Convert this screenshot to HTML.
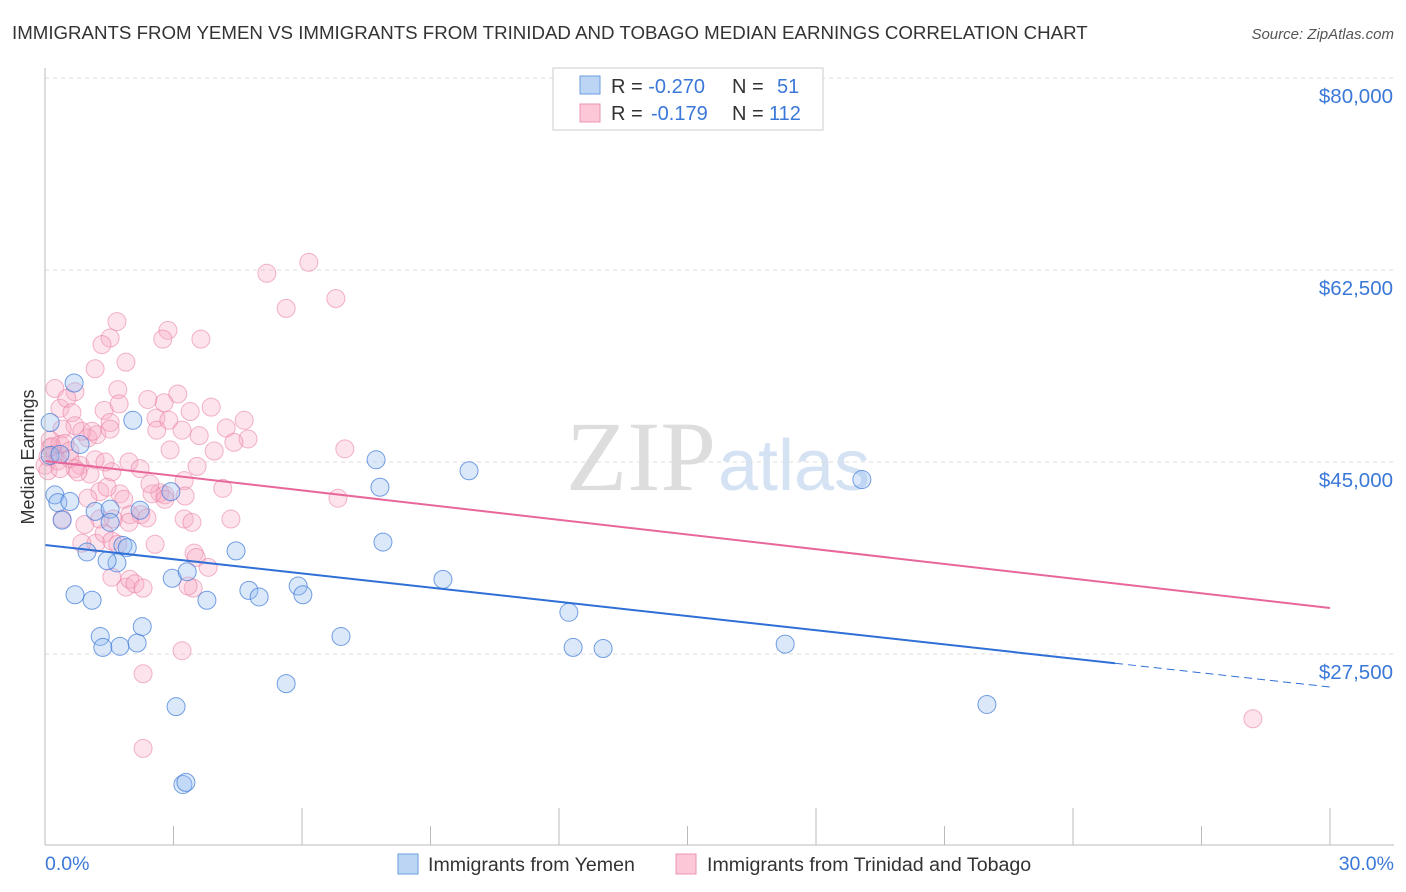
<!DOCTYPE html>
<html><head><meta charset="utf-8"><style>
body{margin:0;background:#fff;font-family:"Liberation Sans",sans-serif;}
svg{display:block}
</style></head><body>
<svg id="chart" width="1406" height="892">
<text x="12" y="39" font-size="18.7" fill="#333">IMMIGRANTS FROM YEMEN VS IMMIGRANTS FROM TRINIDAD AND TOBAGO MEDIAN EARNINGS CORRELATION CHART</text>
<text x="1394" y="39" font-size="15" fill="#555" font-style="italic" text-anchor="end">Source: ZipAtlas.com</text>
<text x="716" y="490" font-size="100" fill="#ddd" text-anchor="end" font-family="Liberation Serif">ZIP</text>
<text x="718" y="490" font-size="72" fill="#d4e2f4">atlas</text>
<text transform="translate(34,457) rotate(-90)" font-size="18" fill="#333" text-anchor="middle">Median Earnings</text>
<g id="grid"></g><g id="xt"></g><g id="pts"></g><g id="lines"></g>
<line x1="45" y1="68" x2="45" y2="845" stroke="#bbb"/>
<line x1="45" y1="845" x2="1394" y2="845" stroke="#bbb"/>
<text x="45" y="870" font-size="19.5" fill="#3b78d8">0.0%</text>
<text x="1394" y="870" font-size="19.5" fill="#3b78d8" text-anchor="end">30.0%</text>
<g>
<rect x="553" y="68" width="270" height="62" fill="#fff" stroke="#ccc"/>
<rect x="580" y="76" width="20" height="18" fill="#bcd5f5" stroke="#6a9ee0"/>
<rect x="580" y="104" width="20" height="18" fill="#fcc8d8" stroke="#eb93b0"/>
<text x="611" y="93" font-size="20" fill="#333">R = <tspan fill="#3b78d8">-0.270</tspan><tspan x="732">N = </tspan><tspan x="777" fill="#3b78d8">51</tspan></text>
<text x="611" y="120" font-size="20" fill="#333">R = <tspan x="651" fill="#3b78d8">-0.179</tspan><tspan x="732">N = </tspan><tspan x="769" fill="#3b78d8">112</tspan></text>
</g>
<g>
<rect x="398" y="854" width="20" height="20" fill="#bcd5f5" stroke="#6a9ee0"/>
<text x="428" y="871" font-size="19.6" fill="#333">Immigrants from Yemen</text>
<rect x="676" y="854" width="20" height="20" fill="#fcc8d8" stroke="#eb93b0"/>
<text x="707" y="871" font-size="19.6" fill="#333">Immigrants from Trinidad and Tobago</text>
</g>
</svg>
<script>
const yTicks=[80000,62500,45000,27500];
const yTickLabels=["$80,000","$62,500","$45,000","$27,500"];
const xTicks=[0,3,6,9,12,15,18,21,24,27,30];
const blueX=[0.12,0.68,2.05,0.23,0.3,0.58,0.4,1.17,1.52,2.22,0.7,1.1,1.29,1.35,1.75,2.15,2.27,1.52,0.98,1.82,1.92,1.68,1.45,2.94,2.97,3.32,3.78,4.46,4.76,5,5.91,6.02,6.91,7.73,7.82,7.89,9.29,9.9,12.23,12.33,13.03,17.28,19.07,21.99,3.06,5.63,3.22,3.29,0.12,0.35,0.82];
const blueY=[48600,52200,48800,42000,41300,41400,39700,40500,40700,40600,32900,32400,29100,28100,28200,28500,30000,39500,36800,37400,37200,35800,36000,42300,34400,35000,32400,36900,33300,32700,33700,32900,29100,45200,42700,37700,34300,44200,31300,28100,28000,28400,43400,22900,22700,24800,15600,15800,45600,45700,46600];
const pinkX=[5.18,6.16,6.79,5.63,1.68,1.52,1.33,1.89,1.17,2.87,2.75,3.64,0.7,1.7,0.23,0.35,0.51,0.63,1,1.21,1.38,1.73,1.52,0.7,0.86,0.4,0.12,0.12,0.23,0.35,0,0.07,0.3,0.47,0.58,3.1,2.78,2.59,2.61,2.89,3.2,3.6,3.88,3.39,4.23,4.65,4.74,4.41,7.0,3.55,3.25,4.15,4.34,3.27,2.68,2.8,1.96,1.56,0.82,1.17,1.05,1.28,1.75,1.84,1.98,2.24,2.5,2.8,2.38,1.96,1.59,1.19,1.38,0.86,1.56,1.89,1.98,2.1,2.29,2.57,3.25,3.43,3.48,3.46,3.81,3.34,3.53,3.2,2.29,2.29,6.84,28.2,1.56,1.7,1.28,0.93,0.58,0.7,0.16,0.07,0.35,1.0,1.45,2.22,2.45,2.92,3.95,1.4,1.1,0.4,0.77,1.52,2.4];
const pinkY=[62200,63200,59900,59000,57800,56300,55700,54100,53500,57000,56200,56200,51400,51600,51700,49900,50800,49500,47200,47500,49700,50300,48600,48300,47800,48000,47000,46300,45700,46600,44700,44200,45100,46700,46000,51200,50400,49000,47900,48800,47900,47400,50000,49600,48100,48800,47100,46800,46200,44600,43300,42600,39800,41900,42200,42000,45000,44100,44700,45200,43900,42300,42100,41600,40200,40200,42100,41600,39900,39500,39800,37600,38500,37600,34500,33600,34300,33900,33500,37500,39800,39500,36700,33500,35400,33700,36300,27800,25700,18900,41700,21600,37800,37500,39800,39300,45300,44400,46400,45500,44400,41700,42700,44400,43000,46100,46000,45000,47800,39800,44100,48000,50700];
const pinkLine=[45090,31690];
const blueLine=[37435,24490];
const blueSolidEnd=24.98;
const X=v=>45+v*1285/30, Y=v=>654-(v-27500)*192/17500;
const NS="http://www.w3.org/2000/svg";
function mk(tag,attrs,parent){const e=document.createElementNS(NS,tag);for(const k in attrs)e.setAttribute(k,attrs[k]);document.getElementById(parent).appendChild(e);return e;}
yTicks.forEach((t,i)=>{
 const g=mk('line',{x1:45,x2:1394,y1:Y(t),y2:Y(t),stroke:'#ddd','stroke-dasharray':'4 4'},'grid');
 
 
 const l=mk('text',{x:1393,y:Y(t)+25,'font-size':20.5,fill:'#3b78d8','text-anchor':'end'},'grid');
 l.textContent=yTickLabels[i];
 
 
});
xTicks.forEach(t=>{
 const l=mk('line',{x1:X(t),x2:X(t),y1:t%6==0&&t>0?808:826,y2:845,stroke:'#bbb'},'xt');
 
 
});
pinkX.forEach((v,i)=>{
 const c=mk('circle',{cx:X(v),cy:Y(pinkY[i]),r:9,fill:'rgba(248,170,195,0.32)',stroke:'rgba(232,120,160,0.55)','stroke-width':1},'pts');
 
 
});
blueX.forEach((v,i)=>{
 const c=mk('circle',{cx:X(v),cy:Y(blueY[i]),r:9,fill:'rgba(150,190,240,0.35)',stroke:'rgba(60,120,215,0.7)','stroke-width':1},'pts');
 
 
});
const pl=mk('line',{x1:X(0),y1:Y(pinkLine[0]),x2:X(30),y2:Y(pinkLine[1]),stroke:'#e8679a','stroke-width':2},'lines');


const bAt=x=>blueLine[0]+(blueLine[1]-blueLine[0])*x/30;
const bl=mk('line',{x1:X(0),y1:Y(blueLine[0]),x2:X(blueSolidEnd),y2:Y(bAt(blueSolidEnd)),stroke:'#2f6fd6','stroke-width':2},'lines');


const bd=mk('line',{x1:X(blueSolidEnd),y1:Y(bAt(blueSolidEnd)),x2:X(30),y2:Y(blueLine[1]),stroke:'#2f6fd6','stroke-width':1,'stroke-dasharray':'8 5'},'lines');


</script>
</body></html>
